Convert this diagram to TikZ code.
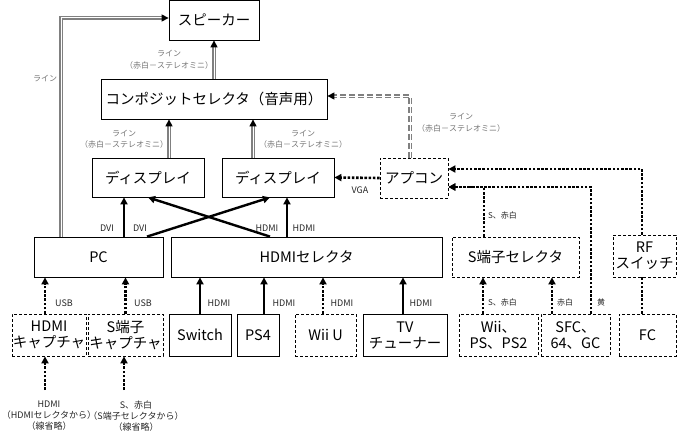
\documentclass[tikz,border=0pt]{standalone}
\usepackage{fontspec}
\setmainfont{Noto Sans CJK JP}
\usetikzlibrary{arrows.meta}

\begin{document}
\begin{tikzpicture}[x=1pt, y=-1pt,
    n/.style={draw, line width=0.8pt, minimum height=40, inner sep=0, align=center, font=\fontsize{14.5}{16}\selectfont},
    nd/.style={n, dash pattern=on 3pt off 2pt},
    lb/.style={font=\fontsize{8}{11.5}\selectfont, text=black!55, align=center, inner sep=0},
    lk/.style={lb, text=black!85},
    lt/.style={lk, font=\fontsize{9}{11}\selectfont},
    ar/.style={line width=2.4pt, -{Triangle[length=7pt, width=7pt]}},
    dt/.style={line width=2.6pt, dash pattern=on 2.6pt off 1.6pt, -{Triangle[length=7pt, width=7pt]}},
    au/.style={draw=black!50, line width=1.2pt, double=white, double distance=1pt, -{Triangle[length=7pt, width=7pt, color=black]}},
    aud/.style={au, dash pattern=on 6pt off 3pt}]
    \useasboundingbox (0,0) rectangle (684,436);

    \node[n] (spk) at (214,20) [minimum width=90] {スピーカー};
    \node[n] (comp) at (214,99) [minimum width=226] {コンポジットセレクタ（音声用）};
    \node[n] (d1) at (148,177.5) [minimum width=112, minimum height=39] {ディスプレイ};
    \node[n] (d2) at (278,177.5) [minimum width=112, minimum height=39] {ディスプレイ};
    \node[nd] (apc) at (414,178) [minimum width=68] {アプコン};
    \node[n] (pc) at (98.5,257) [minimum width=129] {PC};
    \node[n] (hsel) at (306.5,257) [minimum width=271] {HDMIセレクタ};
    \node[nd] (ssel) at (515.5,257) [minimum width=127] {S端子セレクタ};
    \node[nd] (rf) at (644.5,256) [minimum width=63, minimum height=42] {RF\\スイッチ};

    \node[nd] (cap1) at (49,335) [minimum width=74, minimum height=42] {HDMI\\キャプチャ};
    \node[nd] (cap2) at (125.5,335) [minimum width=75, minimum height=42] {S端子\\キャプチャ};
    \node[n] (sw) at (200,335) [minimum width=62, minimum height=42] {Switch};
    \node[n] (ps4) at (258,335) [minimum width=42, minimum height=42] {PS4};
    \node[nd] (wiiu) at (325.5,335) [minimum width=61, minimum height=42] {Wii U};
    \node[n] (tv) at (405,335) [minimum width=84, minimum height=42] {TV\\チューナー};
    \node[nd] (wii) at (498.5,335) [minimum width=79, minimum height=42] {Wii、\\PS、PS2};
    \node[nd] (sfc) at (575.5,335) [minimum width=69, minimum height=42] {SFC、\\64、GC};
    \node[nd] (fc) at (647.5,335) [minimum width=57, minimum height=42] {FC};

    \coordinate (in1) at (45,390);
    \coordinate (in2) at (124,390);

    % audio
    \draw[au] ([xshift=-37.5]pc.north) |- ([yshift=2pt]spk.west);
    \draw[au] (comp.north) -- (spk.south);
    \draw[au] ([xshift=21]d1.north) -- ([xshift=21]d1.north |- comp.south);
    \draw[au] ([xshift=-25]d2.north) -- ([xshift=-25]d2.north |- comp.south);
    \draw[aud] ([xshift=-4]apc.north) |- ([yshift=3pt]comp.east);

    % video
    \draw[ar] ([xshift=25.5]pc.north) -- ([xshift=25.5]pc.north |- d1.south);
    \draw[ar] ([xshift=48.5]pc.north) -- ([xshift=-8]d2.south);
    \draw[ar] ([xshift=-36.5]hsel.north) -- (d1.south);
    \draw[ar] ([xshift=-19.5]hsel.north) -- ([xshift=-19.5]hsel.north |- d2.south);
    \draw[dt] (apc.west) -- (d2.east);

    \draw[dt] ([xshift=-4]cap1.north) -- ([xshift=-4]cap1.north |- pc.south);
    \draw[dt] (cap2.north) -- (cap2.north |- pc.south);
    \draw[dt] (in1) -- (in1 |- cap1.south);
    \draw[dt] (in2) -- (in2 |- cap2.south);
    \draw[ar] (sw.north) -- (sw.north |- hsel.south);
    \draw[ar] ([xshift=6]ps4.north) -- ([xshift=6]ps4.north |- hsel.south);
    \draw[dt] ([xshift=-2.5]wiiu.north) -- ([xshift=-2.5]wiiu.north |- hsel.south);
    \draw[ar] ([xshift=-2]tv.north) -- ([xshift=-2]tv.north |- hsel.south);

    \draw[dt] ([xshift=-15.5]wii.north) -- ([xshift=-15.5]wii.north |- ssel.south);
    \draw[dt] ([xshift=-23.5]sfc.north) -- ([xshift=-23.5]sfc.north |- ssel.south);
    \draw[dt] ([xshift=15.5]sfc.north) |- ([yshift=-9pt]apc.east);
    \draw[dt] ([xshift=-31.5]ssel.north) |- ([yshift=-9pt]apc.east);
    \draw[dt] ([xshift=-2.5]rf.north) |- ([yshift=9pt]apc.east);
    \draw[dt, -] ([xshift=-5.5]fc.north) -- ([xshift=-5.5]fc.north |- rf.south);

    % labels
    \node[lb] (lb1) at (45,79) {ライン};
    \node[lb] (lb2) at (169,60) {ライン\\（赤白－ステレオミニ）};
    \node[lb] (lb3) at (124,139) {ライン\\（赤白－ステレオミニ）};
    \node[lb] (lb4) at (303,139) {ライン\\（赤白－ステレオミニ）};
    \node[lb] (lb5) at (461,123) {ライン\\（赤白－ステレオミニ）};
    \node[lt] (vga) at (360,190) {VGA};
    \node[lt] (dvi1) at (107,228) {DVI};
    \node[lt] (dvi2) at (140,228) {DVI};
    \node[lt] (hd1) at (267,228) {HDMI};
    \node[lt] (hd2) at (304,228) {HDMI};
    \node[lt] (usb1) at (64,303) {USB};
    \node[lt] (usb2) at (143,303) {USB};
    \node[lt] (hd3) at (219,303) {HDMI};
    \node[lt] (hd4) at (284,303) {HDMI};
    \node[lt] (hd5) at (342,303) {HDMI};
    \node[lt] (hd6) at (421,303) {HDMI};
    \node[lt] (src1) at (49,416) {HDMI\\（HDMIセレクタから）\\（線省略）};
    \node[lt] (src2) at (136,416) {S、赤白\\（S端子セレクタから）\\（線省略）};
    \node[lk, anchor=west] (sw1) at (488,215) {S、赤白};
    \node[lk, anchor=west] (sw2) at (488,302) {S、赤白};
    \node[lk, anchor=west] (rw) at (557,302) {赤白};
    \node[lk, anchor=west] (yl) at (597,302) {黄};
\end{tikzpicture}
\end{document}
